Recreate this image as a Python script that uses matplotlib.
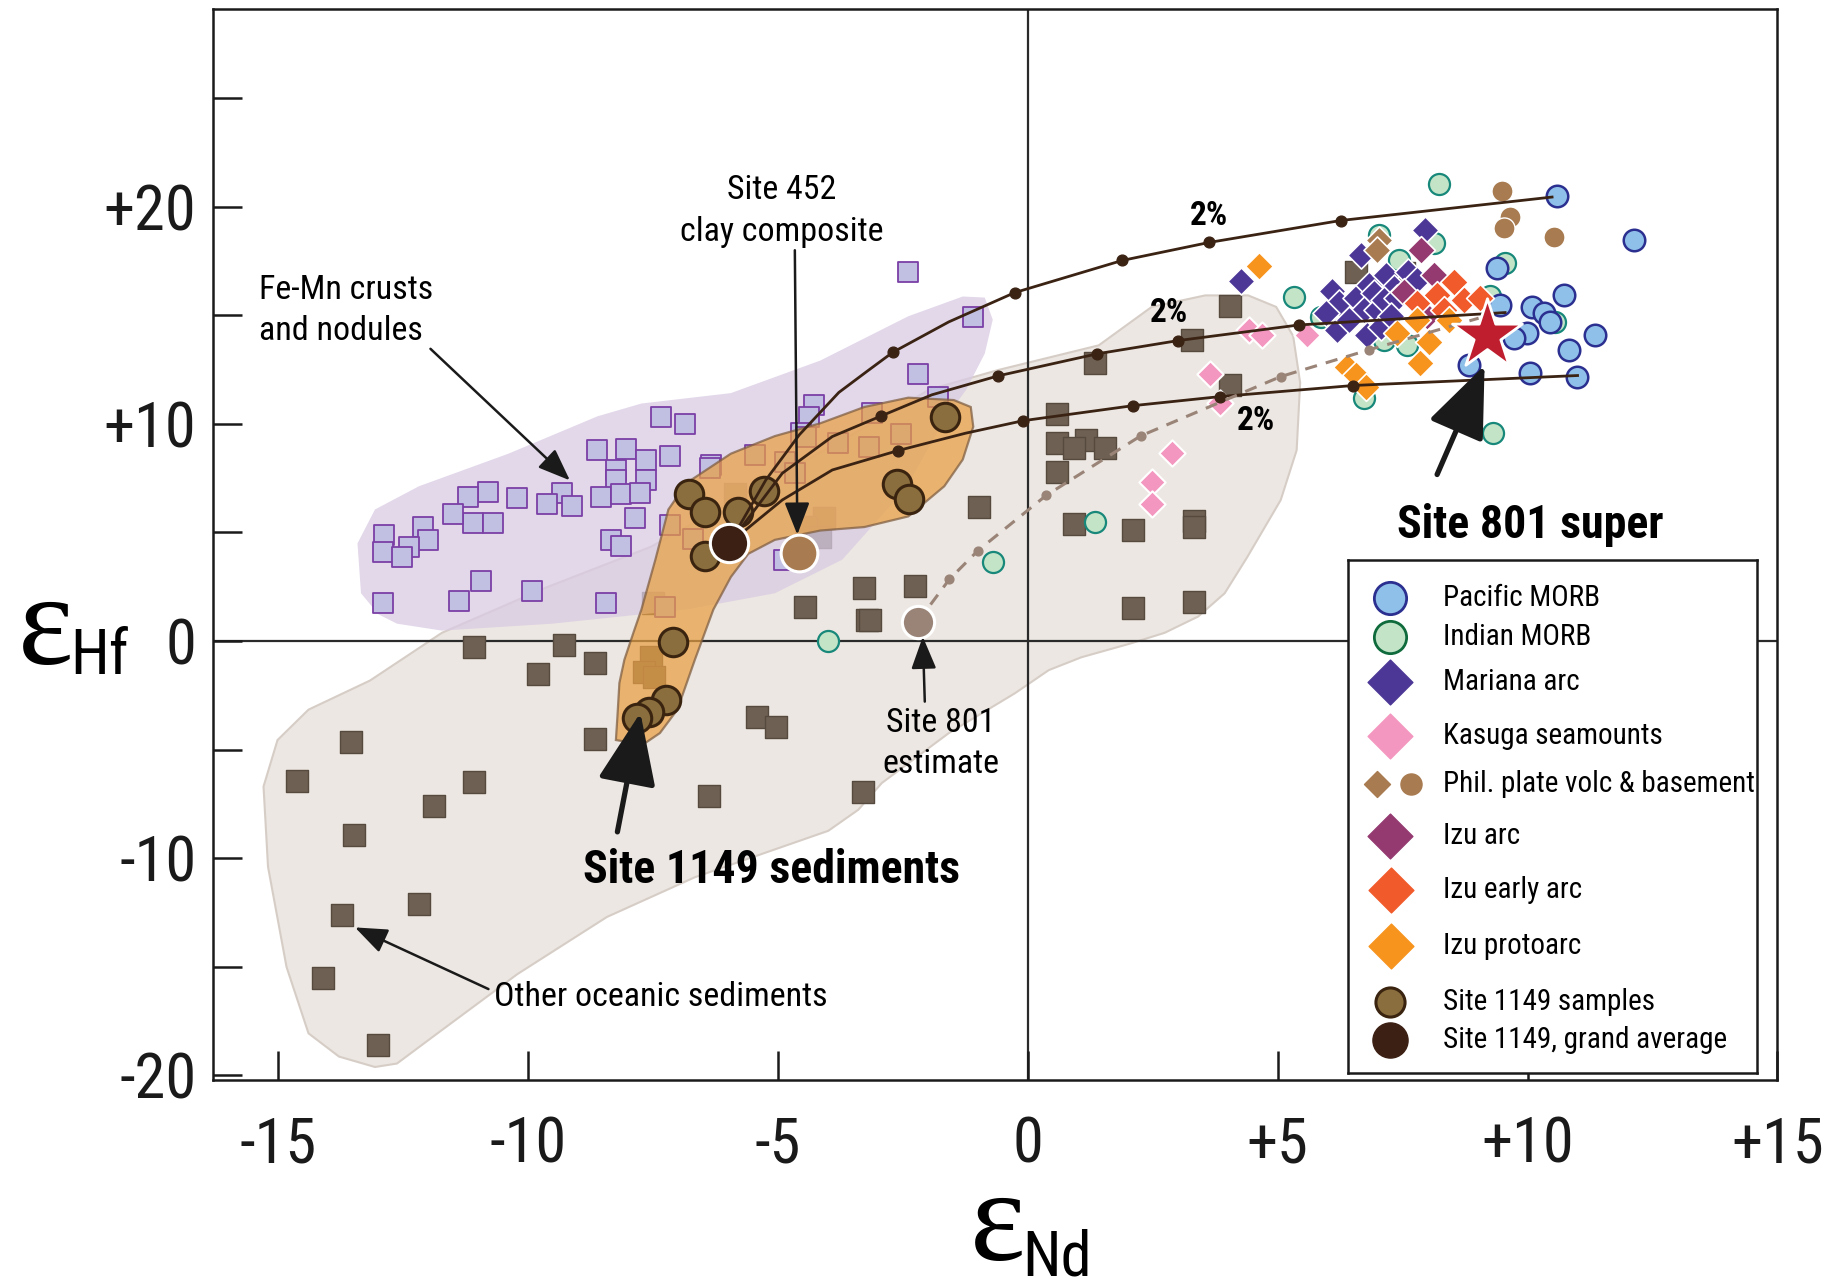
import matplotlib
matplotlib.use("Agg")
import matplotlib.pyplot as plt
from matplotlib import font_manager
from matplotlib.patches import Polygon

# the original uses a condensed Helvetica; use a narrow face if there is one,
# otherwise plain Liberation Sans a bit smaller so the text keeps its width
installed = {f.name for f in font_manager.fontManager.ttflist}
narrow = next((n for n in ['Liberation Sans Narrow', 'Arial Narrow', 'Roboto Condensed']
               if n in installed), None)
if narrow:
    NARROW = [narrow, 'Liberation Sans', 'DejaVu Sans']
    k = 1.0
else:
    NARROW = ['Liberation Sans', 'DejaVu Sans']
    k = 0.83
SERIF = ['Liberation Serif', 'DejaVu Serif']
plt.rcParams['font.family'] = NARROW

# ---- data (eNd, eHf) ----
# fields
other_field = [(-11.72, 0.38), (-9.63, 2.47), (-7.54, 4.34), (-5.45, 7.02), (-3.36, 9.71),
               (-1.97, 11.58), (-0.58, 12.49), (1.42, 13.62), (2.48, 15.39), (3.55, 15.92),
               (4.41, 15.92), (4.97, 15.39), (5.31, 14.05), (5.45, 11.9), (5.38, 8.79),
               (5.06, 6.49), (4.39, 3.86), (3.94, 2.2), (3.41, 1.13), (2.74, 0.38),
               (2.06, -0.11), (1.07, -0.75), (0.42, -1.34), (-0.26, -2.41), (-1.58, -4.24),
               (-2.92, -6.54), (-3.39, -7.77), (-3.99, -8.74), (-6.66, -10.88), (-8.42, -12.71),
               (-10.21, -15.34), (-11.81, -18.07), (-12.62, -19.46), (-13.06, -19.62),
               (-13.78, -19.14), (-14.39, -18.07), (-14.83, -15.01), (-15.2, -10.4),
               (-15.29, -6.7), (-15.01, -4.56), (-14.39, -3.16), (-13.16, -1.82)]
femn_field = [(-0.86, 15.82), (-1.30, 15.87), (-2.39, 14.96), (-4.15, 12.92), (-5.94, 11.42),
              (-7.73, 10.94), (-8.61, 10.35), (-10.39, 8.63), (-12.18, 7.13), (-13.06, 6.06),
              (-13.41, 4.50), (-13.34, 2.20), (-12.99, 1.23), (-12.62, 0.80), (-11.72, 0.48),
              (-9.51, 0.80), (-6.82, 1.45), (-5.06, 2.20), (-3.71, 3.75), (-2.44, 7.02),
              (-1.67, 10.19), (-1.23, 11.58), (-0.86, 13.24), (-0.70, 14.80)]
site1149_field = [(-2.39, 11.21), (-1.48, 11.10), (-1.14, 10.78), (-1.09, 9.87), (-1.30, 8.36),
                  (-1.67, 7.13), (-2.39, 5.74), (-3.27, 5.25), (-4.15, 5.09), (-5.06, 4.66),
                  (-5.59, 4.02), (-5.94, 2.95), (-6.29, 1.45), (-6.66, -0.86), (-7.01, -3.16),
                  (-7.36, -4.24), (-7.70, -4.77), (-8.24, -4.56), (-8.21, -3.49), (-8.17, -1.93),
                  (-8.07, -0.86), (-7.89, 0.38), (-7.73, 1.45), (-7.45, 3.75), (-7.19, 6.06),
                  (-6.82, 7.29), (-5.94, 8.63), (-5.06, 9.44), (-4.15, 10.03), (-3.27, 10.78)]

# Fe-Mn crusts and nodules
femn_x = [-2.39, -1.10, -2.20, -1.80, -4.27, -4.37, -4.53, -6.34, -7.34, -6.85, -8.62, -8.03,
          -7.63, -7.16, -8.23, -8.23, -7.63, -8.53, -8.14, -7.76, -7.85, -7.16, -8.34, -8.13,
          -9.32, -9.62, -9.12, -10.21, -10.79, -11.19, -11.10, -10.70, -11.50, -12.10, -12.00,
          -12.38, -12.88, -12.90, -12.52, -12.90, -11.38, -10.94, -9.91, -8.44, -3.11, -2.53,
          -3.18, -3.80, -4.44, -4.85, -4.65, -5.45, -6.36, -6.70, -7.25, -4.87]
femn_y = [17.02, 14.92, 12.30, 11.26, 10.86, 10.30, 9.56, 8.11, 10.34, 10.00, 8.80, 8.84,
          8.36, 8.51, 7.88, 7.42, 7.42, 6.62, 6.76, 6.84, 5.65, 5.35, 4.66, 4.40,
          6.80, 6.31, 6.23, 6.57, 6.88, 6.65, 5.42, 5.42, 5.84, 5.27, 4.66,
          4.35, 4.89, 4.12, 3.89, 1.74, 1.86, 2.77, 2.30, 1.74, 10.49, 9.53,
          8.96, 9.11, 9.39, 8.23, 7.76, 8.57, 7.96, 4.70, 1.59, 3.73]

# other oceanic sediments
sed_x = [-11.08, -9.28, -9.79, -8.66, -13.54, -14.62, -11.07, -11.87, -13.48, -8.66, -5.41,
         -5.03, -6.37, -3.29, -4.45, -3.22, -13.71, -12.17, -14.10, -13.00, -7.53, -7.67,
         -7.47, -7.50, -4.07, -4.43, -4.16, -5.85, 1.34, 0.58, 1.16, 0.58, 0.92, 1.54, 0.58,
         -0.97, 0.92, 2.10, 3.33, 3.33, 2.10, 3.33, 4.05, 4.04, 3.29, -3.28, -2.26, -3.15,
         6.56, 7.52]
sed_y = [-0.26, -0.18, -1.52, -1.00, -4.64, -6.45, -6.48, -7.59, -8.94, -4.52, -3.49,
         -3.95, -7.13, -6.97, 1.55, 0.97, -12.60, -12.12, -15.50, -18.60, -0.72, -1.41,
         -1.64, 1.75, 5.65, 5.27, 4.81, 6.79, 12.80, 10.46, 9.28, 9.10, 8.88, 8.88, 7.80,
         6.16, 5.37, 5.12, 5.55, 5.25, 1.50, 1.81, 11.80, 15.41, 13.87, 2.43, 2.54, 0.98,
         17.02, 16.94]

pac_x = [10.58, 12.13, 9.38, 10.72, 10.08, 10.32, 10.45, 11.35, 9.98, 9.72, 10.82, 8.82,
         10.05, 10.98, 9.45]
pac_y = [20.48, 18.48, 17.17, 15.95, 15.40, 15.10, 14.71, 14.10, 14.18, 13.95, 13.41, 12.72,
         12.33, 12.18, 15.48]
ind_x = [8.23, 7.02, 7.42, 8.12, 9.55, 10.55, 5.32, 5.86, 7.59, 7.12, 6.73, 9.25, 9.30,
         1.35, -0.70, -3.99]
ind_y = [21.06, 18.71, 17.56, 18.33, 17.40, 14.71, 15.85, 14.94, 13.64, 13.87, 11.18, 15.87,
         9.60, 5.47, 3.65, 0.00]
phil_c_x = [9.49, 9.65, 9.52, 10.52]
phil_c_y = [20.71, 19.55, 19.02, 18.63]
phil_d_x = [7.02, 6.99]
phil_d_y = [18.48, 18.02]
mar_x = [4.26, 7.95, 6.66, 6.09, 6.22, 5.96, 6.19, 6.56, 6.82, 7.16, 7.32, 6.93, 6.72, 6.99,
         7.12, 7.39, 6.43, 6.79, 7.06, 7.60, 7.79, 7.26]
mar_y = [16.60, 18.94, 17.79, 16.10, 15.56, 15.10, 14.33, 15.79, 16.40, 16.86, 16.25, 16.01,
         15.26, 15.26, 15.72, 15.79, 14.79, 14.10, 14.48, 17.02, 16.63, 14.95]
kas_x = [3.65, 3.85, 2.88, 2.49, 2.49, 4.43, 4.68, 5.59]
kas_y = [12.30, 10.95, 8.68, 7.34, 6.31, 14.33, 14.10, 14.10]
izu_x = [7.86, 8.13, 7.53, 7.99]
izu_y = [18.02, 16.86, 16.09, 14.95]
izue_x = [8.52, 8.19, 8.72, 9.05, 7.79, 8.32]
izue_y = [16.56, 15.95, 15.72, 15.79, 15.56, 15.26]
izup_x = [4.63, 7.39, 7.79, 8.02, 8.42, 7.85, 6.39, 6.56, 6.76]
izup_y = [17.28, 14.18, 14.79, 13.79, 14.79, 12.80, 12.64, 12.26, 11.72]

s1149_x = [-1.66, -2.61, -2.37, -6.78, -6.45, -5.79, -5.27, -6.45, -7.10, -7.24, -7.58, -7.82]
s1149_y = [10.34, 7.22, 6.54, 6.76, 5.93, 5.93, 6.93, 3.92, -0.03, -2.72, -3.26, -3.56]
grand_avg = (-5.97, 4.50)
site452 = (-4.58, 4.04)
site801_est = (-2.20, 0.89)
site801_super = (9.18, 14.10)

# mixing curves (vertices and tick dots)
mix_upper_x = [-5.97, -5.24, -4.57, -3.78, -3.20, -2.70, -1.58, -0.26, 1.89, 3.63, 6.26, 10.49]
mix_upper_y = [4.50, 7.42, 9.50, 11.45, 12.45, 13.30, 14.70, 16.05, 17.53, 18.36, 19.37, 20.45]
mix_mid_x = [-5.97, -4.91, -3.91, -2.93, -1.92, -0.60, 1.39, 3.01, 5.43, 9.55]
mix_mid_y = [4.50, 7.73, 9.42, 10.37, 11.34, 12.21, 13.23, 13.84, 14.56, 15.13]
mix_low_x = [-5.97, -4.91, -3.91, -2.60, -1.25, -0.09, 2.10, 3.85, 6.51, 11.00]
mix_low_y = [4.50, 6.50, 7.88, 8.77, 9.57, 10.15, 10.84, 11.26, 11.77, 12.23]
mix_dots_x = [-2.70, -0.26, 1.89, 3.63, 6.26, -2.93, -0.60, 1.39, 3.01, 5.43,
              -2.60, -0.09, 2.10, 3.85, 6.51]
mix_dots_y = [13.30, 16.05, 17.53, 18.36, 19.37, 10.37, 12.21, 13.23, 13.84, 14.56,
              8.77, 10.15, 10.84, 11.26, 11.77]
mix801_x = [-2.20, -1.57, -1.00, 0.37, 2.26, 5.06, 6.82, 9.02]
mix801_y = [0.89, 2.84, 4.16, 6.71, 9.45, 12.18, 13.41, 14.87]
mix801_dots_x = [-1.57, -1.00, 0.37, 2.26, 5.06, 6.82]
mix801_dots_y = [2.84, 4.16, 6.71, 9.45, 12.18, 13.41]

legend_labels = ['Pacific MORB', 'Indian MORB', 'Mariana arc', 'Kasuga seamounts',
                 'Phil. plate volc & basement', 'Izu arc', 'Izu early arc', 'Izu protoarc',
                 'Site 1149 samples', 'Site 1149, grand average']

# colours
C_PAC, C_PAC_E = '#8fc0e9', '#2b2f8f'
C_IND, C_IND_E = '#c4e4c8', '#17887a'
C_MAR = '#4c3796'
C_KAS = '#f497c0'
C_PHIL = '#a87b50'
C_IZU = '#943a70'
C_IZUE = '#f15a2a'
C_IZUP = '#f7941e'
C_1149, C_1149_E = '#8a6e3e', '#3a2410'
C_AVG = '#3c2014'
C_SED, C_SED_E = '#6e6154', '#56493e'
C_FEMN, C_FEMN_E = '#c2c0e2', '#7b3fa6'
C_LINE = '#3b2314'

fig = plt.figure(figsize=(18.24, 12.86), dpi=100)
ax = fig.add_axes([0.1168, 0.1605, 0.8577, 0.8323])
ax.set_xlim(-16.3, 15)
ax.set_ylim(-20.2, 29.1)

# fields
ax.add_patch(Polygon(other_field, closed=True, fc='#ece7e2', ec='#d6cdc6', lw=1.5, zorder=1))
ax.scatter(sed_x, sed_y, marker='s', s=250, c=C_SED, edgecolors=C_SED_E, linewidths=1, zorder=2)
ax.add_patch(Polygon(femn_field, closed=True, fc='#d9cbe3', ec='none', alpha=0.75, zorder=3))
ax.scatter(femn_x, femn_y, marker='s', s=215, c=C_FEMN, edgecolors=C_FEMN_E, linewidths=1.3, zorder=4)
ax.add_patch(Polygon(site1149_field, closed=True, fc='#e8a043', ec='#7d5c40', lw=1.6, alpha=0.72, zorder=5))

# zero lines
ax.axhline(0, color='#2a2a2a', lw=1.6, zorder=1.5)
ax.axvline(0, color='#2a2a2a', lw=1.6, zorder=1.5)

# arc / MORB data
ax.scatter(ind_x, ind_y, s=230, c=C_IND, edgecolors=C_IND_E, linewidths=1.6, zorder=6)
ax.scatter(pac_x, pac_y, s=240, c=C_PAC, edgecolors=C_PAC_E, linewidths=1.8, zorder=6)
ax.scatter(phil_c_x, phil_c_y, s=230, c=C_PHIL, edgecolors='white', linewidths=1.0, zorder=6)
ax.scatter(mar_x, mar_y, marker='D', s=190, c=C_MAR, edgecolors='white', linewidths=1.2, zorder=7)
ax.scatter(phil_d_x, phil_d_y, marker='D', s=190, c=C_PHIL, edgecolors='white', linewidths=1.2, zorder=7)
ax.scatter(kas_x, kas_y, marker='D', s=180, c=C_KAS, edgecolors='white', linewidths=1.5, zorder=7)
ax.scatter(izu_x, izu_y, marker='D', s=200, c=C_IZU, edgecolors='white', linewidths=1.2, zorder=7)
ax.scatter(izue_x, izue_y, marker='D', s=200, c=C_IZUE, edgecolors='white', linewidths=1.2, zorder=7)
ax.scatter(izup_x, izup_y, marker='D', s=200, c=C_IZUP, edgecolors='white', linewidths=1.2, zorder=7)

# Site 1149 samples
ax.scatter(s1149_x, s1149_y, s=420, c=C_1149, edgecolors=C_1149_E, linewidths=2.2, zorder=8)

# mixing curves
for mx, my in [(mix_upper_x, mix_upper_y), (mix_mid_x, mix_mid_y), (mix_low_x, mix_low_y)]:
    ax.plot(mx, my, color=C_LINE, lw=2.0, zorder=9, solid_joinstyle='round')
ax.scatter(mix_dots_x, mix_dots_y, s=60, c=C_LINE, zorder=9)
ax.plot(mix801_x, mix801_y, color='#9a8478', lw=2.2, ls=(0, (4, 3)), zorder=9)
ax.scatter(mix801_dots_x, mix801_dots_y, s=40, c='#9a8478', zorder=9)

# end members
ax.scatter(*grand_avg, s=760, c=C_AVG, edgecolors='white', linewidths=2.2, zorder=10)
ax.scatter(*site452, s=700, c='#a87b50', edgecolors='white', linewidths=2.2, zorder=10)
ax.scatter(*site801_est, s=540, c='#9a8478', edgecolors='white', linewidths=2.2, zorder=10)
ax.scatter(*site801_super, marker='*', s=2800, c='#be1e2d', edgecolors='white', linewidths=2.0, zorder=11)

# labels on plot
for tx, ty in [(3.62, 19.57), (2.83, 15.12), (4.57, 10.13)]:
    ax.text(tx, ty, '2%', fontsize=24 * k, fontweight='bold', ha='center', va='center', zorder=12)

thin = dict(arrowstyle='-|>,head_length=0.9,head_width=0.35', color='#1a1a1a', lw=1.8,
            mutation_scale=22, shrinkA=0, shrinkB=0)
thick = dict(arrowstyle='-|>,head_length=1.6,head_width=0.65', color='#1a1a1a', lw=3.8,
             mutation_scale=28, shrinkA=0, shrinkB=0)
fs_note = 24.5 * k
ls2 = 1.38 / k

ax.text(-15.38, 15.23, 'Fe-Mn crusts\nand nodules', fontsize=fs_note, ha='left', va='center',
        linespacing=ls2, zorder=12)
ax.annotate('', xy=(-9.16, 7.4), xytext=(-11.95, 13.46), arrowprops=thin, zorder=12)

ax.text(-4.93, 19.8, 'Site 452\nclay composite', fontsize=fs_note, ha='center', va='center',
        linespacing=ls2, zorder=12)
ax.annotate('', xy=(-4.61, 4.9), xytext=(-4.66, 18.0), arrowprops=thin, zorder=12)

ax.text(-1.74, -4.72, 'Site 801\nestimate', fontsize=fs_note, ha='center', va='center',
        linespacing=ls2, zorder=12)
ax.annotate('', xy=(-2.10, 0.2), xytext=(-2.06, -2.79), arrowprops=thin, zorder=12)

ax.text(-10.67, -16.41, 'Other oceanic sediments', fontsize=fs_note, ha='left', va='center', zorder=12)
ax.annotate('', xy=(-13.46, -13.19), xytext=(-10.79, -16.03), arrowprops=thin, zorder=12)

ax.text(-5.13, -10.56, 'Site 1149 sediments', fontsize=33 * k, fontweight='bold',
        ha='center', va='center', zorder=12)
ax.annotate('', xy=(-7.75, -3.3), xytext=(-8.21, -8.79), arrowprops=thick, zorder=12)

ax.text(10.05, 5.36, 'Site 801 super', fontsize=33 * k, fontweight='bold',
        ha='center', va='center', zorder=12)
ax.annotate('', xy=(9.14, 12.7), xytext=(8.19, 7.67), arrowprops=thick, zorder=12)

# axes styling
for side in ['top', 'right', 'left', 'bottom']:
    ax.spines[side].set_linewidth(1.8)
    ax.spines[side].set_color('#1a1a1a')
ax.set_xticks([-15, -10, -5, 0, 5, 10, 15])
ax.set_xticklabels(['-15', '-10', '-5', '0', '+5', '+10', '+15'])
ax.set_yticks([-20, -10, 0, 10, 20])
ax.set_yticklabels(['-20', '-10', '0', '+10', '+20'])
ax.set_yticks([-15, -5, 5, 15, 25], minor=True)
ax.tick_params(axis='both', which='both', direction='in', length=21, width=1.8,
               labelsize=45 * k, colors='#1a1a1a')
ax.tick_params(axis='x', pad=26)
ax.tick_params(axis='y', pad=12)

# axis titles
fig.text(0.025, 0.508, 'ε', family=SERIF, fontsize=95, ha='center', va='center')
fig.text(0.0385, 0.476, 'Hf', fontsize=45 * k, ha='left', va='baseline')
fig.text(0.547, 0.045, 'ε', family=SERIF, fontsize=95, ha='center', va='center')
fig.text(0.5605, 0.008, 'Nd', fontsize=45 * k, ha='left', va='baseline')

# legend drawn in its own box
lg = fig.add_axes([0.7390, 0.1656, 0.2242, 0.3989])
lg.set_xlim(0, 409)
lg.set_ylim(513, 0)
lg.set_xticks([])
lg.set_yticks([])
for side in lg.spines.values():
    side.set_linewidth(1.8)
    side.set_color('#1a1a1a')
rows = [38, 77, 122, 176, 224, 276, 330, 386, 442, 480]
lg.scatter(42, rows[0], s=540, c=C_PAC, edgecolors=C_PAC_E, linewidths=2.0)
lg.scatter(42, rows[1], s=540, c=C_IND, edgecolors='#0f6b3c', linewidths=2.0)
lg.scatter(42, rows[2], marker='D', s=520, c=C_MAR)
lg.scatter(42, rows[3], marker='D', s=520, c=C_KAS)
lg.scatter(29, rows[4], marker='D', s=175, c=C_PHIL)
lg.scatter(63, rows[4], s=230, c=C_PHIL)
lg.scatter(42, rows[5], marker='D', s=520, c=C_IZU)
lg.scatter(43, rows[6], marker='D', s=520, c=C_IZUE)
lg.scatter(43, rows[7], marker='D', s=520, c=C_IZUP)
lg.scatter(42, rows[8], s=440, c=C_1149, edgecolors=C_1149_E, linewidths=2.2)
lg.scatter(42, rows[9], s=640, c=C_AVG)
for yy, lab in zip(rows, legend_labels):
    lg.text(95, yy, lab, fontsize=21 * k, ha='left', va='center')

fig.savefig('out.png', dpi=100)
